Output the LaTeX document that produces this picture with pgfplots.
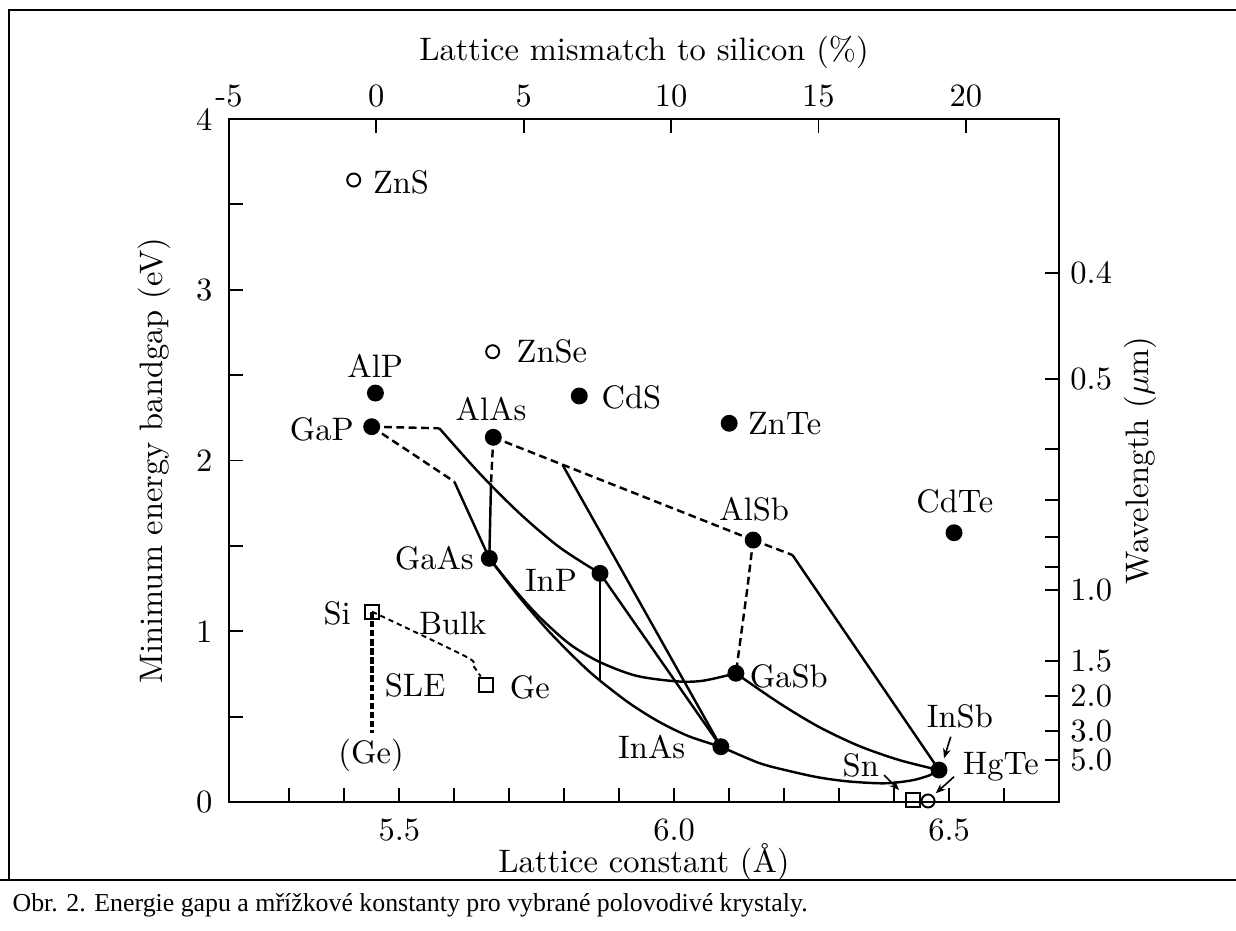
\documentclass[border=0pt]{standalone}
\usepackage{fontspec}
\usepackage{pgfplots}
\pgfplotsset{compat=1.18}
\usetikzlibrary{arrows.meta}
\newfontfamily\timesfont{Liberation Serif}
\begin{document}
\begin{tikzpicture}
\useasboundingbox (-70.46pt,-39.69pt) rectangle (309.85pt,246.77pt);
% frame of the figure cell
\draw[line width=0.45pt] (-67.69pt,243.69pt) -- (309.85pt,243.69pt);
\draw[line width=0.8pt] (-67.69pt,243.69pt) -- (-44.3pt,243.69pt);
\draw[line width=0.8pt] (289pt,243.69pt) -- (309.85pt,243.69pt);
\draw[line width=0.5pt] (-67.69pt,243.9pt) -- (-67.69pt,-24pt);
\draw[line width=0.45pt] (-70.46pt,-24pt) -- (309.85pt,-24pt);
\draw[line width=0.8pt] (292pt,-24pt) -- (309.85pt,-24pt);
\node[anchor=west,inner sep=0pt,font=\timesfont\fontsize{7.95}{9}\selectfont] at (-66.77pt,-31.69pt) {Obr. 2. Energie gapu a mřížkové konstanty pro vybrané polovodivé krystaly.};

% top axis: lattice mismatch
\begin{axis}[
  at={(0pt,0pt)}, anchor=south west,
  scale only axis, width=255.38pt, height=210.15pt,
  xmin=-5, xmax=23.16, ymin=0, ymax=4,
  axis x line*=top, hide y axis,
  axis line style={line width=0.6pt},
  every tick/.style={line width=0.6pt, black},
  major tick length=4.3pt,
  xtick={-5,0,5,10,15,20},
  xticklabels={-5,0,5,10,15,20},
  xlabel={Lattice mismatch to silicon (\%)},
  xlabel style={at={(axis description cs:0.5,1.098)}, anchor=center},
]
\end{axis}

% right axis: wavelength
\begin{axis}[
  at={(0pt,0pt)}, anchor=south west,
  scale only axis, width=255.38pt, height=210.15pt,
  xmin=5.19, xmax=6.7, ymin=0, ymax=4,
  axis y line*=right, hide x axis,
  axis line style={line width=0.6pt},
  every tick/.style={line width=0.6pt, black},
  major tick length=4.3pt,
  ytick={3.1,2.48,2.0667,1.7714,1.55,1.3778,1.24,0.8267,0.62,0.4133,0.248},
  yticklabels={0.4,0.5,,,,,1.0,1.5,2.0,3.0,5.0},
  ylabel={Wavelength ($\mu$m)},
  ylabel style={at={(axis description cs:1.0976,0.5)}, anchor=center},
]
\end{axis}

% main axis
\begin{axis}[
  at={(0pt,0pt)}, anchor=south west,
  scale only axis, width=255.38pt, height=210.15pt,
  xmin=5.19, xmax=6.7, ymin=0, ymax=4,
  clip=false,
  xtick pos=left, ytick pos=left,
  axis line style={line width=0.6pt},
  every tick/.style={line width=0.6pt, black},
  major tick length=4.3pt, minor tick length=4.3pt,
  xtick={5.5,6.0,6.5}, xticklabels={5.5,6.0,6.5},
  minor xtick={5.3,5.4,5.6,5.7,5.8,5.9,6.1,6.2,6.3,6.4,6.6},
  ytick={0,1,2,3,4}, yticklabels={0,1,2,3,4},
  minor ytick={0.5,1.5,2.5,3.5},
  xticklabel style={yshift=-1.6pt},
  yticklabel style={xshift=-1.6pt},
  xlabel={Lattice constant (\AA)},
  xlabel style={at={(axis description cs:0.5,-0.088)}, anchor=center},
  ylabel={Minimum energy bandgap (eV)},
  ylabel style={at={(axis description cs:-0.0904,0.5)}, anchor=center},
  sol/.style={line width=0.75pt, black},
  dsh/.style={line width=0.75pt, black, dash pattern=on 2.4pt off 1.4pt},
]
% ---- dashed (indirect) segments
\addplot[dsh] coordinates {(5.4496,2.198) (5.5727,2.1886)};
\addplot[dsh] coordinates {(5.4496,2.198) (5.6000,1.876)};
\addplot[dsh] coordinates {(5.6709,2.136) (5.6667,1.866)};
\addplot[dsh] coordinates {(5.6709,2.136) (6.1436,1.534)};
\addplot[dsh] coordinates {(6.1436,1.534) (6.2151,1.4466)};
\addplot[dsh] coordinates {(6.1436,1.534) (6.1327,1.2416) (6.1122,0.754)};
% ---- solid (direct) segments
\addplot[sol, smooth] coordinates {(5.5727,2.1886) (5.6455,1.9262) (5.7182,1.6920) (5.7909,1.4928) (5.8650,1.339)};
\addplot[sol] coordinates {(5.6000,1.876) (5.6636,1.427)};
\addplot[sol] coordinates {(5.6667,1.866) (5.6636,1.427)};
\addplot[sol] coordinates {(5.7970,1.9736) (6.0849,0.3238)};
\addplot[sol] coordinates {(6.2151,1.4466) (6.4818,0.187)};
\addplot[sol] coordinates {(5.8650,1.339) (5.8650,0.7145)};
\addplot[sol] coordinates {(5.8650,1.339) (6.0849,0.3238)};
\addplot[sol, smooth] coordinates {(5.6636,1.427) (5.7182,1.2000) (5.7727,0.9968) (5.8273,0.8187) (5.8636,0.7145) (5.9182,0.5792) (5.9727,0.4691) (6.0273,0.3842) (6.0849,0.3238)};
\addplot[sol, smooth] coordinates {(5.6636,1.427) (5.7091,1.2457) (5.7545,1.0846) (5.8091,0.9265) (5.8636,0.8211) (5.9304,0.7397) (6.0031,0.7069) (6.0515,0.7098) (6.1122,0.7537)};
\addplot[sol, smooth] coordinates {(6.0849,0.3238) (6.1545,0.2284) (6.2091,0.1816) (6.2636,0.1435) (6.3182,0.1201) (6.3818,0.1095) (6.4309,0.1259) (6.4636,0.1552) (6.4818,0.187)};
\addplot[sol, smooth] coordinates {(6.1122,0.7537) (6.1909,0.5798) (6.2636,0.4392) (6.3364,0.3280) (6.4091,0.2460) (6.4818,0.187)};
% ---- Si / Ge
\addplot[line width=0.6pt, black, dash pattern=on 1.6pt off 1.2pt, smooth] coordinates {(5.4504,1.1145) (5.6213,0.851) (5.6340,0.800) (5.6480,0.735)};
\addplot[line width=1.1pt, black, dash pattern=on 2pt off 0.8pt] coordinates {(5.4504,1.1145) (5.4504,0.404)};
% ---- filled points
\addplot[only marks, mark=*, mark size=2.4pt, black] coordinates {
(5.4564,2.395) (5.4496,2.198) (5.6709,2.136) (5.6636,1.427) (5.8273,2.378)
(6.1000,2.218) (6.1436,1.534) (6.5091,1.577) (5.8650,1.339) (6.1122,0.754)
(6.0849,0.3238) (6.4818,0.187)};
% ---- open circles
\addplot[only marks, mark=o, mark size=2.0pt, black, mark options={fill=white, line width=0.6pt}] coordinates {
(5.4169,3.6428) (5.6697,2.6372) (6.4618,0.006)};
% ---- open squares
\addplot[only marks, mark=square, mark size=2.1pt, black, mark options={fill=white, line width=0.6pt}] coordinates {
(5.4504,1.1145) (5.6576,0.6852) (6.4345,0.0117)};
% ---- arrows
\draw[line width=0.5pt, -{Stealth[length=3pt,width=2.4pt]}] (axis cs:6.3818,0.1581) -- (axis cs:6.4091,0.0703);
\draw[line width=0.5pt, -{Stealth[length=3pt,width=2.4pt]}] (axis cs:6.5091,0.1482) -- (axis cs:6.4758,0.0510);
\draw[line width=0.5pt, -{Stealth[length=3pt,width=2.4pt]}] (axis cs:6.5031,0.3824) -- (axis cs:6.4909,0.2559);
% ---- labels
\begin{scope}[every node/.style={inner sep=0pt}]
\node[anchor=west] at (axis cs:5.4509,3.631) {ZnS};
\node at (axis cs:5.4560,2.553) {AlP};
\node[anchor=east] at (axis cs:5.4182,2.1845) {GaP};
\node[anchor=west] at (axis cs:5.7122,2.637) {ZnSe};
\node at (axis cs:5.6667,2.300) {AlAs};
\node[anchor=west] at (axis cs:5.8667,2.369) {CdS};
\node[anchor=west] at (axis cs:6.1333,2.214) {ZnTe};
\node at (axis cs:6.1455,1.716) {AlSb};
\node at (axis cs:6.5105,1.759) {CdTe};
\node[anchor=east] at (axis cs:5.6364,1.427) {GaAs};
\node[anchor=east] at (axis cs:5.8242,1.300) {InP};
\node[anchor=west] at (axis cs:6.1364,0.738) {GaSb};
\node[anchor=east] at (axis cs:6.0212,0.324) {InAs};
\node[anchor=east] at (axis cs:5.4127,1.105) {Si};
\node at (axis cs:5.5970,1.0466) {Bulk};
\node at (axis cs:5.5287,0.6803) {SLE};
\node[anchor=west] at (axis cs:5.7000,0.6706) {Ge};
\node at (axis cs:5.4485,0.2753) {(Ge)};
\node at (axis cs:6.5197,0.4996) {InSb};
\node at (axis cs:6.3394,0.2167) {Sn};
\node[anchor=west] at (axis cs:6.5242,0.2069) {HgTe};
\end{scope}
\end{axis}
\end{tikzpicture}
\end{document}
